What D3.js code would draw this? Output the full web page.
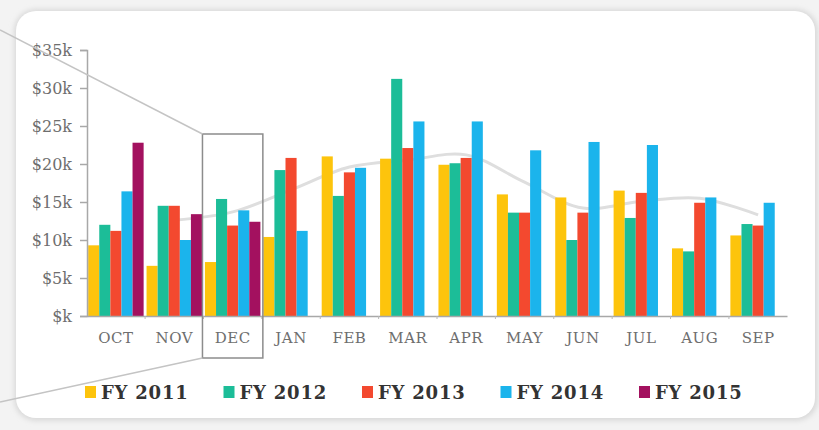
<!DOCTYPE html>
<html>
<head>
<meta charset="utf-8">
<script src="https://cdn.jsdelivr.net/npm/d3@7"></script>
<style>
  html, body { margin: 0; padding: 0; background: #f3f3f3; }
  #chart { width: 819px; height: 430px; }
</style>
</head>
<body>
<div id="chart"></div>
<script>
// values in thousands of dollars
var months = ["OCT", "NOV", "DEC", "JAN", "FEB", "MAR", "APR", "MAY", "JUN", "JUL", "AUG", "SEP"];
var seriesNames = ["FY 2011", "FY 2012", "FY 2013", "FY 2014", "FY 2015"];
var fy2011 = [9.3, 6.6, 7.1, 10.4, 21.0, 20.7, 19.9, 16.0, 15.6, 16.5, 8.9, 10.6];
var fy2012 = [12.0, 14.5, 15.4, 19.2, 15.8, 31.2, 20.1, 13.6, 10.0, 12.9, 8.5, 12.1];
var fy2013 = [11.2, 14.5, 11.9, 20.8, 18.9, 22.1, 20.8, 13.6, 13.6, 16.2, 14.9, 11.9];
var fy2014 = [16.4, 10.0, 13.9, 11.2, 19.5, 25.6, 25.6, 21.8, 22.9, 22.5, 15.6, 14.9];
var fy2015 = [22.8, 13.4, 12.4, null, null, null, null, null, null, null, null, null];
var trend = [null, 12.6, 13.7, 16.6, 19.6, 20.5, 21.2, 17.6, 14.2, 15.1, 15.5, 13.3];
var yTicks = [0, 5, 10, 15, 20, 25, 30, 35];
var highlightMonth = "DEC";

var colors = ["#FDC40C", "#1CBD98", "#F3492F", "#1BB4EC", "#A3115F"];
var allSeries = [fy2011, fy2012, fy2013, fy2014, fy2015];

var width = 819, height = 430;
var svg = d3.select("#chart").append("svg")
  .attr("width", width)
  .attr("height", height);

// card with soft shadow
var defs = svg.append("defs");
defs.append("filter").attr("id", "shadow")
  .attr("x", "-5%").attr("y", "-5%").attr("width", "110%").attr("height", "110%")
  .append("feGaussianBlur").attr("stdDeviation", 2.5);

svg.append("rect")
  .attr("x", 14).attr("y", 9).attr("width", 804).attr("height", 412)
  .attr("rx", 22).attr("ry", 22)
  .style("fill", "#dadada")
  .attr("filter", "url(#shadow)");
svg.append("rect")
  .attr("x", 16).attr("y", 11).attr("width", 799).attr("height", 407)
  .attr("rx", 20).attr("ry", 20)
  .style("fill", "#ffffff");

var x0 = d3.scaleBand().domain(months).range([87, 787]).paddingInner(0.05).paddingOuter(0.02);
var x1 = d3.scaleBand().domain(seriesNames).range([0, x0.bandwidth()]).padding(0);
var y = d3.scaleLinear().domain([0, 35]).range([316, 50]);

// trend line behind the bars
var line = d3.line()
  .defined(function(d) { return d.v != null; })
  .x(function(d) { return x0(d.m) + x0.bandwidth() / 2; })
  .y(function(d) { return y(d.v); })
  .curve(d3.curveCatmullRom);

svg.append("path")
  .datum(months.map(function(m, i) { return { m: m, v: trend[i] }; }))
  .attr("d", line)
  .style("fill", "none")
  .style("stroke", "#dedede")
  .style("stroke-width", 3);

// bars
var groups = svg.selectAll(".month")
  .data(months)
  .enter().append("g")
  .attr("class", "month")
  .attr("transform", function(m) { return "translate(" + x0(m) + ",0)"; });

groups.selectAll("rect")
  .data(function(m, i) {
    return seriesNames.map(function(s, j) { return { s: s, v: allSeries[j][i], c: colors[j] }; })
      .filter(function(d) { return d.v != null; });
  })
  .enter().append("rect")
  .attr("x", function(d) { return x1(d.s); })
  .attr("y", function(d) { return y(d.v); })
  .attr("width", x1.bandwidth())
  .attr("height", function(d) { return y(0) - y(d.v); })
  .style("fill", function(d) { return d.c; });

// axes
var yAxis = svg.append("g")
  .attr("transform", "translate(87,0)")
  .call(d3.axisLeft(y).tickValues(yTicks).tickSizeOuter(0).tickSize(7).tickPadding(8)
    .tickFormat(function(d) { return "$" + (d === 0 ? "" : d) + "k"; }));

var xAxis = svg.append("g")
  .attr("transform", "translate(0,316)")
  .call(d3.axisBottom(x0).tickSize(0).tickSizeOuter(0).tickPadding(16));

[yAxis, xAxis].forEach(function(ax) {
  ax.select(".domain").style("stroke", "#a8a8a8").style("stroke-width", 1.5);
  ax.selectAll(".tick line").style("stroke", "#a8a8a8").style("stroke-width", 1.5);
  ax.selectAll("text")
    .style("font-family", "'DejaVu Serif', Georgia, serif")
    .style("fill", "#6e6e6e");
});
yAxis.selectAll("text").style("font-size", "16px");
xAxis.selectAll("text").style("font-size", "15px").style("letter-spacing", "0.5px");

// small marks at band edges on the baseline
svg.append("g").selectAll("line")
  .data(months.slice(1))
  .enter().append("line")
  .attr("x1", function(m) { return x0(m) - x0.step() * x0.paddingInner() / 2; })
  .attr("x2", function(m) { return x0(m) - x0.step() * x0.paddingInner() / 2; })
  .attr("y1", 316).attr("y2", 319)
  .style("stroke", "#b8b8b8");

// highlight box and callout lines
var hx = x0(highlightMonth) - x0.step() * x0.paddingInner() / 2 - 1;
var hw = x0.step() + 2;
svg.append("rect")
  .attr("x", hx).attr("y", 134)
  .attr("width", hw).attr("height", 224)
  .style("fill", "none")
  .style("stroke", "#8c8c8c")
  .style("stroke-width", 1.5);

svg.append("line")
  .attr("x1", 0).attr("y1", 30).attr("x2", hx).attr("y2", 134)
  .style("stroke", "#c4c4c4").style("stroke-width", 1.5);
svg.append("line")
  .attr("x1", 0).attr("y1", 402).attr("x2", hx).attr("y2", 358)
  .style("stroke", "#c4c4c4").style("stroke-width", 1.5);

// legend
var legend = svg.selectAll(".legend")
  .data(seriesNames)
  .enter().append("g")
  .attr("class", "legend")
  .attr("transform", function(d, i) { return "translate(" + (85 + i * 138.5) + ",386)"; });

legend.append("rect")
  .attr("width", 11).attr("height", 12)
  .style("fill", function(d, i) { return colors[i]; });

legend.append("text")
  .attr("x", 16).attr("y", 12.5)
  .style("font-family", "'DejaVu Serif', Georgia, serif")
  .style("font-size", "18px")
  .style("font-weight", "600")
  .style("letter-spacing", "0.8px")
  .style("fill", "#333333")
  .text(function(d) { return d; });
</script>
</body>
</html>
